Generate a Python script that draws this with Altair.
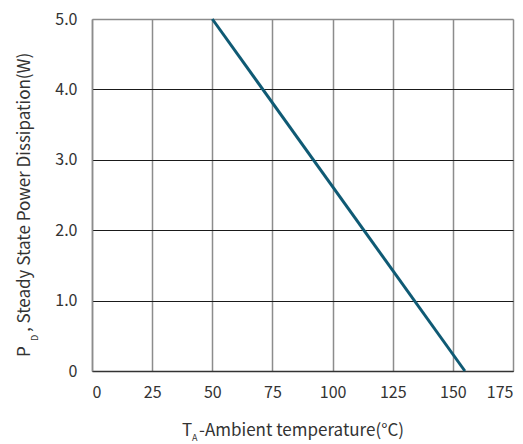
import altair as alt
import pandas as pd

# Data
temps = [50, 155]
power = [5.0, 0.0]
x_ticks = [0, 25, 50, 75, 100, 125, 150, 175]
y_ticks = [0, 1, 2, 3, 4, 5]

df = pd.DataFrame({"t": temps, "p": power})

FONT = "Noto Sans CJK SC"
TXT = "#333333"
W, H = 421, 352

xscale = alt.Scale(domain=[0, 175], nice=False, zero=False)
yscale = alt.Scale(domain=[0, 5], nice=False)

line = alt.Chart(df).mark_line(color="#0f5a74", strokeWidth=3).encode(
    x=alt.X("t:Q", scale=xscale,
            axis=alt.Axis(values=x_ticks, title=None, grid=True, gridColor="#8c8c8c",
                          gridWidth=1.5, ticks=False, labelPadding=13,
                          domainColor="#333333", domainWidth=1.5,
                          labelFont=FONT, labelFontSize=16, labelColor=TXT)),
    y=alt.Y("p:Q", scale=yscale,
            axis=alt.Axis(values=y_ticks, title=None, grid=True,
                          gridColor={"condition": {"test": "datum.value == 5", "value": "#8c8c8c"}, "value": "#1a1a1a"},
                          gridWidth={"condition": {"test": "datum.value == 5", "value": 1.5}, "value": 1},
                          ticks=False, labelPadding=15,
                          domainColor="#8c8c8c", domainWidth=1.5,
                          labelExpr="datum.value == 0 ? '0' : format(datum.value, '.1f')",
                          labelFont=FONT, labelFontSize=16, labelColor=TXT)),
)

def txt(s, x, y, size, angle=0):
    return alt.Chart(pd.DataFrame({"s": [s]})).mark_text(
        font=FONT, fontSize=size, color=TXT, align="left", baseline="alphabetic", angle=angle
    ).encode(text="s:N", x=alt.value(x), y=alt.value(y))

# Axis titles with subscripts
xt1 = txt("T", 90, 417, 17)
xt2 = txt("A", 100, 422, 9)
xt3 = txt("-Ambient temperature(°C)", 107, 417, 17)

yt1 = txt("P", -62, 338, 17, 270)
yt2 = txt("D", -54, 322, 9, 270)
yt3 = txt(", Steady State Power Dissipation(W)", -62, 313, 17, 270)

chart = alt.layer(line, xt1, xt2, xt3, yt1, yt2, yt3).properties(
    width=W, height=H,
    autosize=alt.AutoSizeParams(type="none"),
    padding={"left": 84, "top": 11, "right": 2, "bottom": 76},
).configure_view(stroke=None).configure(background="white")

chart.save("out.html", embed_options={"renderer": "svg", "actions": False})
